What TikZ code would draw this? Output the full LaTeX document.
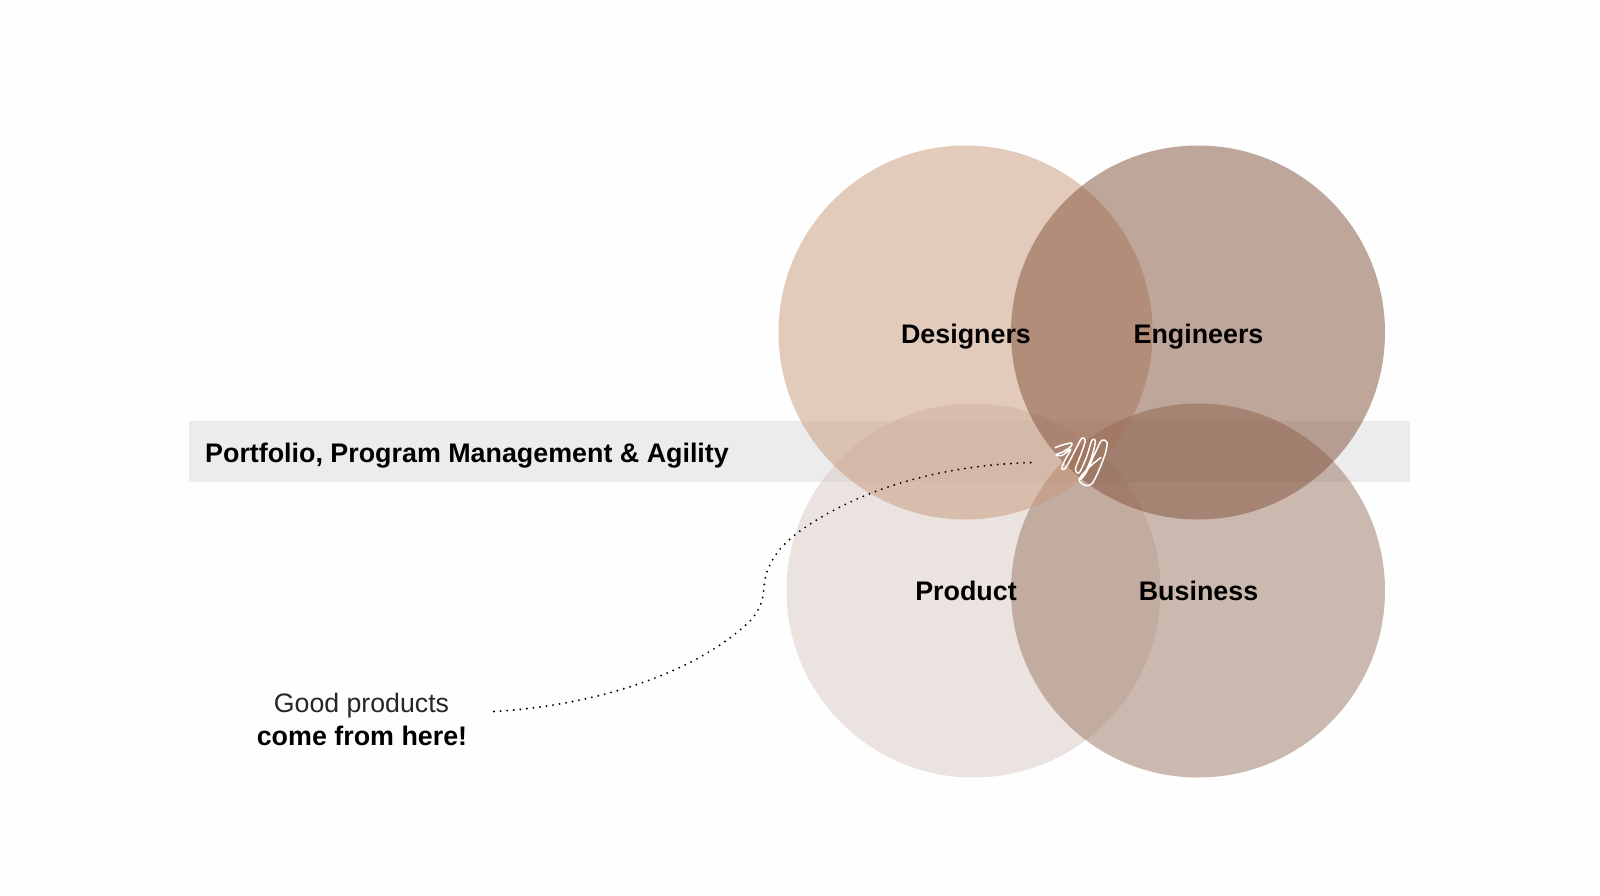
\documentclass[tikz,border=0pt]{standalone}
\usepackage{fontspec}
\setmainfont{Liberation Sans}
\definecolor{bgc}{HTML}{FEFEFE}
\definecolor{bandc}{HTML}{ECECEC}
\definecolor{desc}{RGB}{201,153,123}
\definecolor{engc}{RGB}{129,80,57}
\definecolor{proc}{RGB}{217,201,194}
\definecolor{busc}{RGB}{154,118,98}
\tikzset{
  circ/.style={circle,minimum size=374pt,inner sep=0pt,fill opacity=0.5,draw=none},
  lab/.style={font=\fontsize{26.85}{30}\selectfont\bfseries,text=black,inner sep=0pt},
  note/.style={font=\fontsize{26.7}{30}\selectfont,text=black!85,inner sep=0pt,anchor=base},
  dots/.style={black,line width=2.1pt,line cap=round,dash pattern=on 0pt off 6.6pt},
  scrib/.style={white,line width=1.5pt,line cap=round,line join=round}
}
\begin{document}
\begin{tikzpicture}[x=1pt,y=-1pt]
\useasboundingbox (0,0) rectangle (1600,895);
\fill[bgc] (0,0) rectangle (1600,895);
\node[fill=bandc,minimum width=1221pt,minimum height=61pt,inner sep=0pt,anchor=north west] (band) at (189,421) {};
\node[circ,fill=proc] (cp) at (973.5,590.5) {};
\node[circ,fill=busc] (cb) at (1198,590.5) {};
\node[circ,fill=desc] (cd) at (965.5,332.5) {};
\node[circ,fill=engc] (ce) at (1198,332.5) {};
\node[lab] (tband) at (467,455.5) {Portfolio, Program Management \& Agility};
\node[lab] (td) at (966,337) {Designers};
\node[lab] (te) at (1198.5,337) {Engineers};
\node[lab] (tp) at (966,591) {Product};
\node[lab] (tb) at (1198.5,591) {Business};
\node[note] (n1) at (361.5,712.5) {Good products};
\node[note,text=black,font=\fontsize{26.85}{30}\selectfont\bfseries] (n2) at (362,745) {come from here!};
\coordinate (gs) at (494,711.5);
\coordinate (ge) at (1034,462.5);
\draw[dots] (gs) .. controls (590,706) and (695,675) .. (751,620)
  .. controls (768,600) and (762,585) .. (766,575)
  .. controls (772,555) and (785,542) .. (800,531)
  .. controls (850,495) and (930,465) .. (ge);
\begin{scope}[shift={(1020,410)},x=0.3333pt,y=-0.3333pt]
\draw[scrib] plot[smooth,tension=0.5] coordinates {(105,113)(130,104)(155,99)(152,110)(128,126)(108,134)(125,137)(152,118)(135,150)(125,177)(138,172)(165,122)(185,85)(196,92)(182,135)(166,178)(178,188)(200,140)(216,90)(226,96)(212,150)(190,198)(183,208)(200,185)(225,130)(245,91)(261,97)(256,130)(235,185)(215,222)(195,226)(177,210)(192,188)(215,165)(243,142)};
\end{scope}
\end{tikzpicture}
\end{document}
